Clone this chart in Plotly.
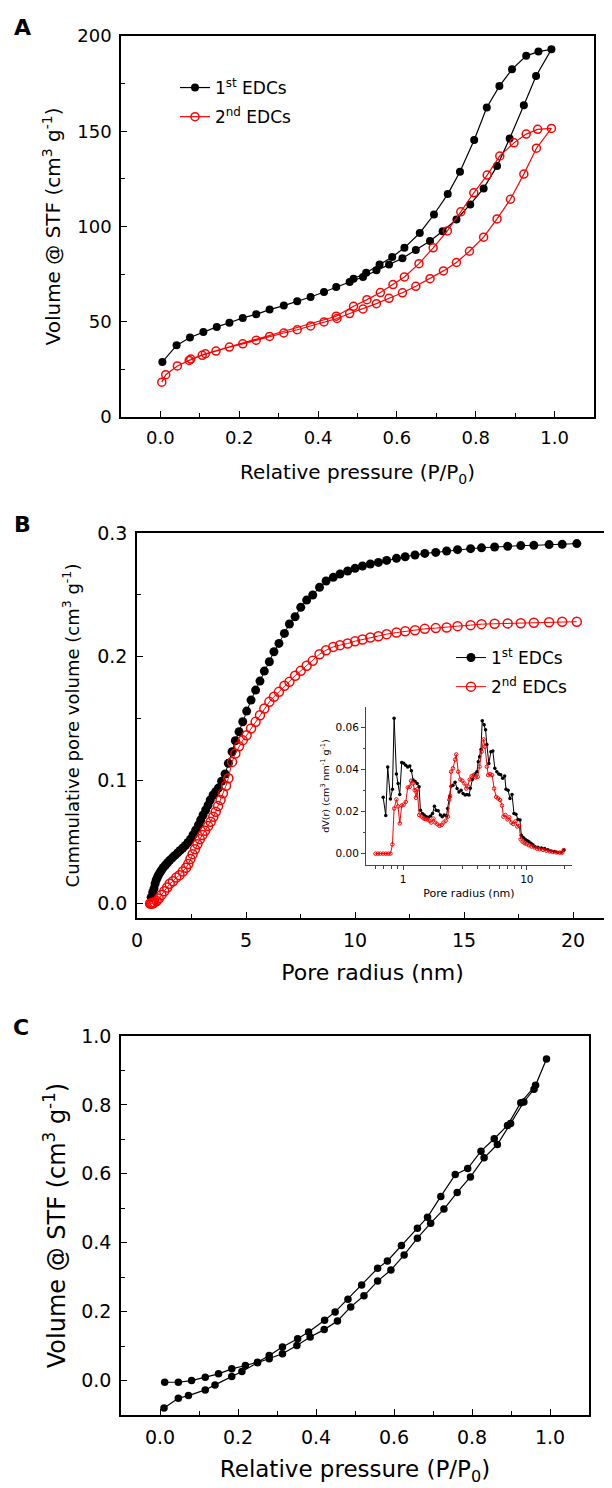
import plotly.graph_objects as go

# page body adds an 8px margin, so the figure is drawn 8px smaller and all
# reference pixel positions are shifted by that offset
OFF = 8
W, H = 612 - OFF, 1488 - OFF
FONT = "DejaVu Sans, Liberation Sans, Arial, sans-serif"

# ---------------- Panel A data ----------------
a1_x = [0.005, 0.041, 0.075, 0.109, 0.143, 0.175, 0.209, 0.243, 0.277, 0.313, 0.347, 0.381, 0.415, 0.446, 0.48,
        0.514, 0.548, 0.58, 0.614, 0.648, 0.684, 0.716, 0.751, 0.786, 0.82, 0.854, 0.886, 0.922, 0.953, 0.992,
        0.959, 0.928, 0.892, 0.86, 0.828, 0.796, 0.76, 0.729, 0.694, 0.658, 0.619, 0.588, 0.556, 0.522, 0.49]
a1_y = [28.9, 37.6, 41.7, 44.6, 47.3, 49.5, 52.0, 53.9, 56.4, 58.5, 60.7, 63.0, 65.6, 68.3, 70.9,
        73.5, 77.0, 80.0, 83.3, 87.6, 92.4, 97.5, 103.7, 111.6, 120.0, 131.7, 146.2, 163.7, 179.0, 193.0,
        191.8, 189.6, 182.5, 173.7, 162.5, 145.4, 128.7, 117.0, 106.3, 96.6, 88.8, 84.0, 80.0, 75.7, 72.6]
a2_x = [0.0035, 0.0135, 0.043, 0.073, 0.106, 0.141, 0.175, 0.209, 0.243, 0.277, 0.313, 0.347, 0.381, 0.415,
        0.448, 0.48, 0.514, 0.548, 0.58, 0.614, 0.648, 0.684, 0.718, 0.751, 0.784, 0.82, 0.854, 0.888, 0.922,
        0.954, 0.992,
        0.957, 0.928, 0.897, 0.861, 0.829, 0.795, 0.762, 0.728, 0.692, 0.656, 0.619, 0.59, 0.558, 0.524, 0.49,
        0.446, 0.114, 0.077]
a2_y = [18.3, 22.2, 26.8, 29.7, 32.4, 34.6, 36.7, 38.4, 40.3, 42.3, 44.1, 45.8, 47.8, 49.9,
        51.7, 54.3, 56.7, 59.5, 62.3, 65.2, 68.6, 72.6, 76.7, 81.1, 87.0, 94.4, 104.0, 114.3, 127.5,
        141.1, 151.5,
        151.0, 148.5, 143.9, 137.0, 127.0, 117.7, 107.7, 97.7, 88.8, 80.5, 73.5, 69.5, 65.3, 61.6, 58.1,
        52.9, 33.2, 30.4]

# ---------------- Panel B data ----------------
b1_x = [0.65, 0.72, 0.78, 0.83, 0.88, 0.93, 0.98, 1.05, 1.12, 1.2, 1.3, 1.4, 1.5, 1.62, 1.74, 1.86, 1.98, 2.1,
        2.22, 2.34, 2.45, 2.57, 2.69, 2.82, 2.92, 3.03, 3.15, 3.26, 3.36, 3.49, 3.61, 3.73, 3.88, 4.04, 4.19,
        4.36, 4.51, 4.68, 4.85, 5.03, 5.23, 5.44, 5.64, 5.84, 6.07, 6.28, 6.51, 6.76, 6.99, 7.25, 7.51, 7.78,
        8.06, 8.37, 8.67, 9.0, 9.31, 9.66, 10.0, 10.34, 10.7, 11.07, 11.45, 11.9, 12.3, 12.75, 13.2, 13.7,
        14.2, 14.7, 15.3, 15.8, 16.4, 17.0, 17.6, 18.2, 18.9, 19.5, 20.17]
b1_y = [0.005, 0.009, 0.012, 0.016, 0.019, 0.021, 0.023, 0.025, 0.027, 0.029, 0.031, 0.033, 0.035, 0.037,
        0.039, 0.041, 0.043, 0.045, 0.047, 0.0495, 0.052, 0.0555, 0.0595, 0.0636, 0.0676, 0.0717, 0.0757,
        0.0797, 0.0838, 0.0879, 0.0905, 0.0935, 0.099, 0.1049, 0.1135, 0.1229, 0.1318, 0.1391, 0.1472, 0.1558,
        0.1647, 0.1728, 0.1801, 0.1882, 0.1958, 0.2039, 0.2106, 0.2187, 0.2263, 0.2322, 0.2398, 0.2457, 0.2498,
        0.256, 0.2611, 0.2641, 0.2668, 0.2692, 0.2714, 0.2733, 0.2749, 0.2762, 0.2778, 0.2795, 0.2808, 0.2822,
        0.2835, 0.2843, 0.2854, 0.2865, 0.2873, 0.288, 0.2887, 0.2893, 0.2898, 0.29, 0.2906, 0.2908, 0.2914]
b2_x = [0.6, 0.65, 0.7, 0.75, 0.8, 0.9, 1.0, 1.12, 1.25, 1.38, 1.5, 1.65, 1.8, 1.95, 2.1, 2.25, 2.35, 2.45,
        2.55, 2.66, 2.77, 2.88, 3.0, 3.12, 3.26, 3.38, 3.5, 3.61, 3.72, 3.83, 3.94, 4.08, 4.19, 4.36, 4.51,
        4.68, 4.85, 5.03, 5.23, 5.44, 5.64, 5.84, 6.07, 6.28, 6.51, 6.76, 6.99, 7.25, 7.51, 7.78, 8.06, 8.37,
        8.67, 9.0, 9.31, 9.66, 10.0, 10.34, 10.7, 11.07, 11.45, 11.9, 12.3, 12.75, 13.2, 13.7, 14.2, 14.7,
        15.3, 15.8, 16.4, 17.0, 17.6, 18.2, 18.9, 19.5, 20.17]
b2_y = [0.0, 0.0, 0.0, 0.0005, 0.001, 0.002, 0.004, 0.007, 0.010, 0.013, 0.016, 0.018, 0.021, 0.023, 0.026,
        0.029, 0.032, 0.036, 0.040, 0.044, 0.048, 0.052, 0.0555, 0.059, 0.0627, 0.0662, 0.0703, 0.0743, 0.0789,
        0.0838, 0.0892, 0.0954, 0.1014, 0.1147, 0.1215, 0.1274, 0.1323, 0.1363, 0.1417, 0.1471, 0.1525, 0.1579,
        0.1633, 0.1674, 0.1714, 0.1763, 0.1795, 0.1844, 0.1884, 0.1925, 0.1965, 0.2019, 0.2051, 0.2078, 0.2092,
        0.2105, 0.2124, 0.2138, 0.2154, 0.2164, 0.2181, 0.2194, 0.2205, 0.2213, 0.2224, 0.223, 0.2235, 0.2246,
        0.2254, 0.2262, 0.2265, 0.2268, 0.227, 0.2274, 0.2277, 0.2282, 0.2282]

# inset: pore size distribution
i1_x = [0.69, 0.724, 0.751, 0.79, 0.82, 0.846, 0.883, 0.911, 0.939, 0.974, 1.011, 1.05, 1.089, 1.132, 1.167,
        1.205, 1.25, 1.297, 1.346, 1.38, 1.43, 1.48, 1.54, 1.60, 1.67, 1.73, 1.79, 1.85, 1.92, 2.0, 2.07, 2.15,
        2.24, 2.29, 2.38, 2.44, 2.53, 2.63, 2.73, 2.83, 2.94, 3.05, 3.17, 3.28, 3.41, 3.49, 3.63, 3.81, 3.95,
        4.05, 4.15, 4.26, 4.36, 4.52, 4.64, 4.75, 4.93, 5.12, 5.31, 5.51, 5.72, 5.93, 6.15, 6.38, 6.62, 6.79,
        7.05, 7.31, 7.59, 7.87, 8.17, 8.47, 8.8, 9.02, 9.35, 9.7, 10.1, 10.4, 10.8, 11.2, 11.6, 12.3, 13.1,
        13.9, 14.8, 15.7, 16.7, 17.8, 18.9, 19.8]
i1_y = [0.0268, 0.0182, 0.0412, 0.026, 0.0306, 0.0644, 0.0379, 0.0334, 0.0282, 0.0434, 0.043, 0.0421, 0.0413,
        0.0417, 0.0394, 0.035, 0.0343, 0.0334, 0.0318, 0.0207, 0.0191, 0.0184, 0.0176, 0.0173, 0.0179, 0.0191,
        0.0226, 0.0207, 0.0204, 0.0184, 0.0176, 0.0184, 0.0179, 0.0215, 0.027, 0.0321, 0.0326, 0.034, 0.031,
        0.0294, 0.0302, 0.0286, 0.0279, 0.0282, 0.0279, 0.0311, 0.0353, 0.0379, 0.039, 0.0437, 0.0461, 0.0496,
        0.0633, 0.0613, 0.059, 0.052, 0.0429, 0.0485, 0.0488, 0.0406, 0.039, 0.0379, 0.0375, 0.0359, 0.037,
        0.0306, 0.0302, 0.0263, 0.0282, 0.0191, 0.0188, 0.0163, 0.016, 0.0088, 0.0077, 0.0068, 0.0062, 0.0057,
        0.005, 0.0042, 0.0034, 0.003, 0.0027, 0.0024, 0.0019, 0.0013, 0.001, 0.0006, 0.0005, 0.0017]
i2_x = [0.598, 0.625, 0.655, 0.69, 0.724, 0.76, 0.79, 0.82, 0.846, 0.883, 0.91, 0.94, 0.974, 1.01, 1.05, 1.09,
        1.13, 1.16, 1.2, 1.24, 1.27, 1.30, 1.35, 1.41, 1.46, 1.51, 1.57, 1.63, 1.69, 1.76, 1.82, 1.89, 1.97,
        2.05, 2.12, 2.21, 2.30, 2.36, 2.40, 2.44, 2.53, 2.63, 2.69, 2.79, 2.9, 3.01, 3.13, 3.24, 3.32, 3.45,
        3.58, 3.72, 3.86, 4.0, 4.15, 4.31, 4.47, 4.58, 4.75, 4.87, 5.05, 5.24, 5.44, 5.65, 5.86, 6.08, 6.31,
        6.47, 6.72, 6.97, 7.22, 7.5, 7.77, 8.07, 8.37, 8.68, 8.91, 9.24, 9.58, 9.94, 10.4, 10.9, 11.5, 12.1,
        12.7, 13.5, 14.4, 15.3, 16.2, 17.3, 18.4, 19.3, 19.9]
i2_y = [0.0, 0.0, 0.0, 0.0, 0.0, 0.0, 0.0, 0.0044, 0.0215, 0.0258, 0.0225, 0.0144, 0.0229, 0.0233, 0.0246,
        0.0315, 0.0318, 0.0347, 0.0334, 0.0302, 0.0266, 0.0306, 0.0184, 0.0176, 0.0168, 0.0165, 0.0163, 0.0157,
        0.0148, 0.0167, 0.0148, 0.014, 0.0132, 0.0137, 0.0148, 0.0157, 0.0176, 0.0256, 0.0275, 0.039, 0.0406,
        0.0448, 0.0472, 0.039, 0.0353, 0.0347, 0.0334, 0.031, 0.0321, 0.0353, 0.0369, 0.0374, 0.0363, 0.0366,
        0.0414, 0.0485, 0.0544, 0.0509, 0.0414, 0.0374, 0.0379, 0.0374, 0.031, 0.027, 0.0263, 0.0255, 0.0229,
        0.0176, 0.0184, 0.0163, 0.0173, 0.0148, 0.0141, 0.0153, 0.0129, 0.0132, 0.0068, 0.0057, 0.005, 0.0046,
        0.004, 0.0034, 0.003, 0.0024, 0.0021, 0.0018, 0.0014, 0.0011, 0.0008, 0.0006, 0.0005, 0.0005, 0.0017]

# ---------------- Panel C data ----------------
c_x = [0.0103, 0.047, 0.073, 0.116, 0.141, 0.184, 0.21, 0.25, 0.28, 0.314, 0.351, 0.385, 0.421, 0.455, 0.489,
       0.523, 0.558, 0.592, 0.626, 0.66, 0.694, 0.728, 0.762, 0.796, 0.831, 0.865, 0.899, 0.933, 0.959, 0.991,
       0.963, 0.925, 0.891, 0.857, 0.823, 0.789, 0.757, 0.72, 0.686, 0.66, 0.619, 0.583, 0.558, 0.517, 0.482,
       0.449, 0.422, 0.381, 0.353, 0.314, 0.28, 0.25, 0.219, 0.184, 0.15, 0.116, 0.081, 0.047, 0.012]
c_y = [-0.0797, -0.0515, -0.0437, -0.0272, -0.0126, 0.0117, 0.0262, 0.0515, 0.0632, 0.0778, 0.102, 0.1263,
       0.1478, 0.1729, 0.2138, 0.2459, 0.2886, 0.3207, 0.3644, 0.4131, 0.4568, 0.4976, 0.5461, 0.5909, 0.6463,
       0.6851, 0.7464, 0.8085, 0.8455, 0.933,
       0.857, 0.8066, 0.7405, 0.7017, 0.6657, 0.6152, 0.5977, 0.5345, 0.4743, 0.4422, 0.3916, 0.3469, 0.3256,
       0.277, 0.2362, 0.1992, 0.1749, 0.1408, 0.1215, 0.0971, 0.0729, 0.0534, 0.0437, 0.034, 0.0194, 0.0097,
       0.0, -0.0049, -0.0049]

series_names = ["1<sup>st</sup> EDCs", "2<sup>nd</sup> EDCs"]


def px_x(p):
    return (p - OFF) / W


def px_y(p):
    return 1 - (p - OFF) / H


fig = go.Figure()

# Panel A
fig.add_trace(go.Scatter(x=a1_x, y=a1_y, mode="lines+markers", name=series_names[0],
                         line=dict(color="black", width=1.2),
                         marker=dict(symbol="circle", size=8, color="black"),
                         xaxis="x", yaxis="y", legend="legend", legendgroup="a1"))
fig.add_trace(go.Scatter(x=a2_x, y=a2_y, mode="lines+markers", name=series_names[1],
                         line=dict(color="#ff0000", width=1.2),
                         marker=dict(symbol="circle-open", size=8, color="#ff0000", line=dict(width=1.5)),
                         xaxis="x", yaxis="y", legend="legend", legendgroup="a2"))
# Panel B
fig.add_trace(go.Scatter(x=b1_x, y=b1_y, mode="lines+markers", name=series_names[0],
                         line=dict(color="black", width=1),
                         marker=dict(symbol="circle", size=9, color="black"),
                         xaxis="x2", yaxis="y2", legend="legend2", legendgroup="b1"))
fig.add_trace(go.Scatter(x=b2_x, y=b2_y, mode="lines+markers", name=series_names[1],
                         line=dict(color="#ff0000", width=1),
                         marker=dict(symbol="circle-open", size=9, color="#ff0000", line=dict(width=1.5)),
                         xaxis="x2", yaxis="y2", legend="legend2", legendgroup="b2"))
# Inset
fig.add_trace(go.Scatter(x=i1_x, y=i1_y, mode="lines+markers", name=series_names[0],
                         line=dict(color="black", width=1),
                         marker=dict(symbol="circle", size=3.5, color="black"),
                         xaxis="x4", yaxis="y4", showlegend=False))
fig.add_trace(go.Scatter(x=i2_x, y=i2_y, mode="lines+markers", name=series_names[1],
                         line=dict(color="#ff0000", width=1),
                         marker=dict(symbol="circle-open", size=3.5, color="#ff0000", line=dict(width=1)),
                         xaxis="x4", yaxis="y4", showlegend=False))
# Panel C
fig.add_trace(go.Scatter(x=c_x, y=c_y, mode="lines+markers", name="EDCs",
                         line=dict(color="black", width=1.2),
                         marker=dict(symbol="circle", size=7.5, color="black"),
                         xaxis="x3", yaxis="y3", showlegend=False))


def tf(size):
    return dict(family=FONT, size=size, color="black")


axis_common = dict(showline=True, linecolor="black", linewidth=1.6, mirror=True, ticks="inside",
                   ticklen=6, tickwidth=1.3, tickcolor="black", showgrid=False, zeroline=False,
                   automargin=False, ticklabelstandoff=4)
minor_common = dict(ticks="inside", ticklen=4, tickwidth=1.2, tickcolor="black", showgrid=False)

fig.update_layout(
    width=W, height=H, paper_bgcolor="white", plot_bgcolor="white",
    margin=dict(l=0, r=0, t=0, b=0, autoexpand=False),
    font=dict(family=FONT, color="black"),
    # Panel A
    xaxis=dict(axis_common, domain=[px_x(121), px_x(594)], range=[-0.1, 1.1], anchor="y",
               tickvals=[0.0, 0.2, 0.4, 0.6, 0.8, 1.0], ticktext=["0.0", "0.2", "0.4", "0.6", "0.8", "1.0"],
               minor=dict(minor_common, tickvals=[0.1, 0.3, 0.5, 0.7, 0.9]), tickfont=tf(18),
               title=dict(text="Relative pressure (P/P<sub>0</sub>)", font=tf(20), standoff=18)),
    yaxis=dict(axis_common, domain=[px_y(417), px_y(36)], range=[0, 200], anchor="x",
               tickvals=[0, 50, 100, 150, 200],
               minor=dict(minor_common, tickvals=[25, 75, 125, 175]), tickfont=tf(18),
               title=dict(text="Volume @ STF (cm<sup>3</sup> g<sup>-1</sup>)", font=tf(20), standoff=11)),
    # Panel B
    xaxis2=dict(axis_common, domain=[px_x(137), px_x(608)], range=[0, 21.6], anchor="y2",
                tickvals=[0, 5, 10, 15, 20],
                minor=dict(minor_common, tickvals=[2.5, 7.5, 12.5, 17.5]), tickfont=tf(19),
                title=dict(text="Pore radius (nm)", font=tf(22), standoff=15)),
    yaxis2=dict(axis_common, domain=[px_y(918), px_y(533)], range=[-0.0117, 0.3], anchor="x2",
                tickvals=[0.0, 0.1, 0.2, 0.3], ticktext=["0.0", "0.1", "0.2", "0.3"],
                minor=dict(minor_common, tickvals=[0.05, 0.15, 0.25]), tickfont=tf(19),
                title=dict(text="Cummulative pore volume (cm<sup>3</sup> g<sup>-1</sup>)", font=tf(18), standoff=13)),
    # Panel C
    xaxis3=dict(axis_common, domain=[px_x(121), px_x(589)], range=[-0.1, 1.1], anchor="y3",
                tickvals=[0.0, 0.2, 0.4, 0.6, 0.8, 1.0], ticktext=["0.0", "0.2", "0.4", "0.6", "0.8", "1.0"],
                minor=dict(minor_common, tickvals=[0.1, 0.3, 0.5, 0.7, 0.9]), tickfont=tf(19),
                title=dict(text="Relative pressure (P/P<sub>0</sub>)", font=tf(23), standoff=14)),
    yaxis3=dict(axis_common, domain=[px_y(1415), px_y(1036)], range=[-0.1, 1.0], anchor="x3",
                tickvals=[0.0, 0.2, 0.4, 0.6, 0.8, 1.0], ticktext=["0.0", "0.2", "0.4", "0.6", "0.8", "1.0"],
                minor=dict(minor_common, tickvals=[-0.1, 0.1, 0.3, 0.5, 0.7, 0.9]), tickfont=tf(19),
                title=dict(text="Volume @ STF (cm<sup>3</sup> g<sup>-1</sup>)", font=tf(24), standoff=9)),
    # Inset
    xaxis4=dict(type="log", domain=[px_x(366), px_x(572)], range=[-0.3, 1.365], anchor="y4",
                showline=True, linecolor="#444", linewidth=1, mirror=False, showgrid=False, zeroline=False,
                automargin=False,
                ticks="outside", ticklen=4, tickwidth=1, tickcolor="#444",
                tickvals=[1, 10], ticktext=["1", "10"],
                minor=dict(ticks="outside", ticklen=2.5, tickwidth=1, tickcolor="#444",
                           tickvals=[0.6, 0.7, 0.8, 0.9, 2, 3, 4, 5, 6, 7, 8, 9, 20]),
                tickfont=tf(10.5),
                title=dict(text="Pore radius (nm)", font=tf(11), standoff=5)),
    yaxis4=dict(domain=[px_y(865), px_y(707)], range=[-0.0054, 0.0698], anchor="x4",
                showline=True, linecolor="#444", linewidth=1, mirror=False, showgrid=False, zeroline=False,
                automargin=False,
                ticks="outside", ticklen=4, tickwidth=1, tickcolor="#444",
                tickvals=[0.0, 0.02, 0.04, 0.06], ticktext=["0.00", "0.02", "0.04", "0.06"],
                minor=dict(ticks="outside", ticklen=2.5, tickwidth=1, tickcolor="#444",
                           tickvals=[0.01, 0.03, 0.05]),
                tickfont=tf(10.5),
                title=dict(text="dV(r) (cm<sup>3</sup> nm<sup>-1</sup> g<sup>-1</sup>)", font=tf(9.5), standoff=4)),
    legend=dict(x=px_x(175), y=px_y(70), xanchor="left", yanchor="top", bgcolor="rgba(0,0,0,0)",
                font=tf(17), tracegroupgap=4),
    legend2=dict(x=px_x(451), y=px_y(640), xanchor="left", yanchor="top", bgcolor="rgba(0,0,0,0)",
                 font=tf(17), tracegroupgap=4),
    annotations=[
        dict(text="<b>A</b>", x=px_x(22), y=px_y(27), xref="paper", yref="paper", showarrow=False,
             xanchor="center", yanchor="middle", font=tf(22)),
        dict(text="<b>B</b>", x=px_x(22), y=px_y(525), xref="paper", yref="paper", showarrow=False,
             xanchor="center", yanchor="middle", font=tf(22)),
        dict(text="<b>C</b>", x=px_x(21), y=px_y(1027), xref="paper", yref="paper", showarrow=False,
             xanchor="center", yanchor="middle", font=tf(22)),
    ],
)

fig.write_html("out.html")
